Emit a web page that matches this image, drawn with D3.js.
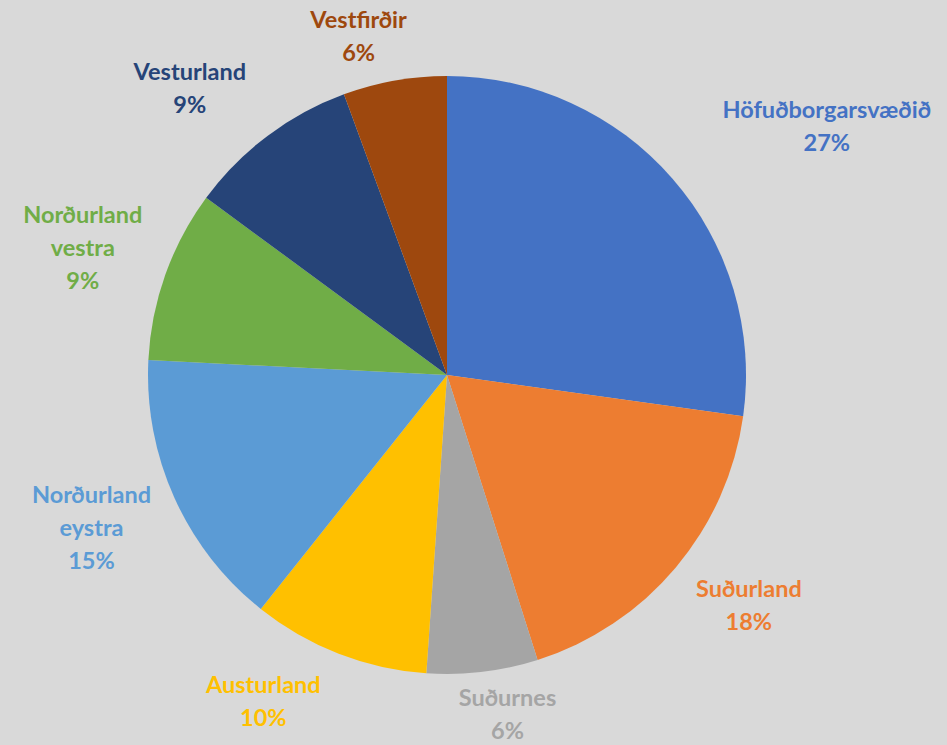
<!DOCTYPE html>
<meta charset="utf-8">
<style>
    body {
        margin: 0;
        background-color: #d9d9d9;
    }
    text {
        font-family: Lato, "Open Sans", sans-serif;
        font-weight: bold;
        font-size: 23.5px;
    }
</style>
<body>
<script src="https://cdnjs.cloudflare.com/ajax/libs/d3/7.8.5/d3.min.js"></script>
<script>

    var regions = ["Höfuðborgarsvæðið", "Suðurland", "Suðurnes", "Austurland",
        "Norðurland eystra", "Norðurland vestra", "Vesturland", "Vestfirðir"];
    var shares = [27.2, 17.9, 6.0, 9.6, 15.1, 9.3, 9.3, 5.6];
    var colors = ["#4472c4", "#ed7d31", "#a5a5a5", "#ffc000",
        "#5b9bd5", "#70ad47", "#264478", "#9e480e"];
    // small layout nudges for the outside labels (Excel "best fit")
    var labelNudge = [[56, -13], [13, 0], [16, -16], [-45, -7],
        [-5, -1], [-2, -1], [-28, 0], [-23, 14]];

    var width = 947,
        height = 745,
        cx = 447,
        cy = 375,
        radius = 299,
        labelRadius = 325,
        lineHeight = 33;

    var total = d3.sum(shares);
    var fmt = d3.format(".0%");

    var data = regions.map(function(d, i) {
        return {name: d, value: shares[i], color: colors[i], nudge: labelNudge[i]};
    });

    var pie = d3.pie()
            .sort(null)
            .value(function(d) { return d.value; });

    var arc = d3.arc()
            .innerRadius(0)
            .outerRadius(radius);

    var svg = d3.select("body").append("svg")
            .attr("width", width)
            .attr("height", height)
        .append("g")
            .attr("transform", "translate(" + cx + "," + cy + ")");

    var arcs = pie(data);

    svg.selectAll("path.slice")
            .data(arcs)
        .enter().append("path")
            .attr("class", "slice")
            .attr("d", arc)
            .attr("fill", function(d) { return d.data.color; });

    var labels = svg.selectAll("text.label")
            .data(arcs)
        .enter().append("text")
            .attr("class", "label")
            .attr("fill", function(d) { return d.data.color; })
            .attr("text-anchor", "middle");

    labels.each(function(d) {
        var t = d3.select(this);
        var lines = d.data.name.split(" ");
        lines.push(fmt(d.data.value / total));
        lines.forEach(function(l, i) {
            t.append("tspan")
                .attr("x", 0)
                .attr("dy", i === 0 ? 0 : lineHeight)
                .text(l);
        });
        var box = this.getBBox();
        var w = box.width,
            h = lines.length * lineHeight;
        var a = (d.startAngle + d.endAngle) / 2;
        var px = Math.sin(a) * (labelRadius + w / 2) + d.data.nudge[0];
        var py = -Math.cos(a) * (labelRadius + h / 2) + d.data.nudge[1];
        // vertical centre of the text block
        var top = py - h / 2;
        t.attr("transform", "translate(" + px + "," + (top + lineHeight * 0.74) + ")");
    });

</script>
